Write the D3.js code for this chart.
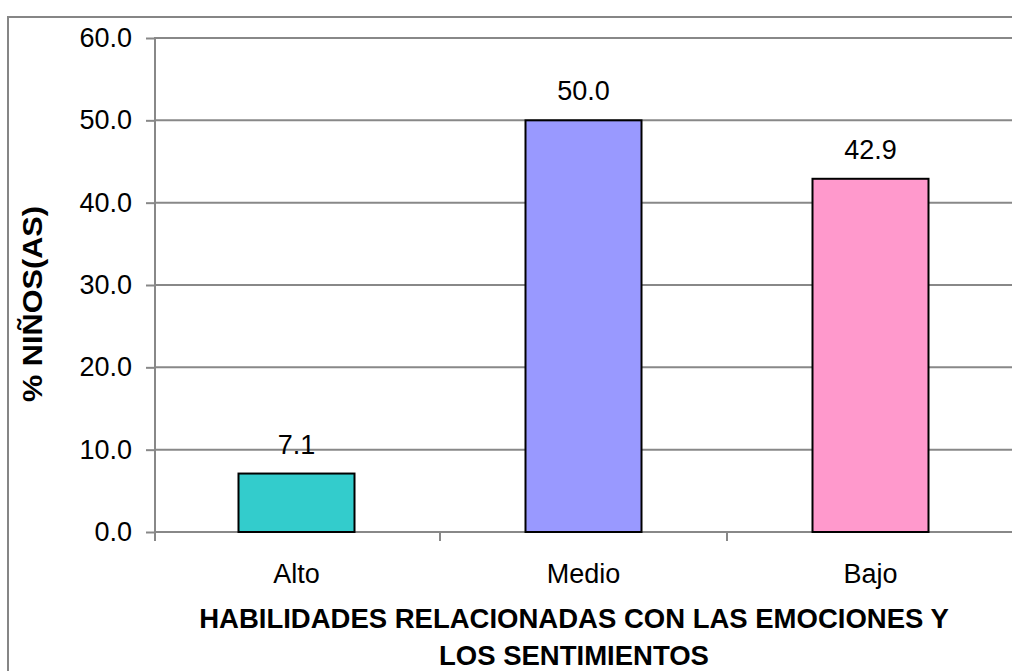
<!DOCTYPE html>
<html>
<head>
<meta charset="utf-8">
<script src="https://cdn.jsdelivr.net/npm/d3@7"></script>
<style>
html,body{margin:0;padding:0;background:#fff;}
svg{display:block;font-family:"Liberation Sans",Arial,sans-serif;}
</style>
</head>
<body>
<svg id="chart" width="1012" height="671"></svg>
<script>
const categories = ["Alto", "Medio", "Bajo"];
const values = [7.1, 50.0, 42.9];
const colors = ["#33CCCC", "#9999FF", "#FF99CC"];
const yTicks = [0, 10, 20, 30, 40, 50, 60];
const yTitle = "% NIÑOS(AS)";
const xTitle = ["HABILIDADES RELACIONADAS CON LAS EMOCIONES Y", "LOS SENTIMIENTOS"];

(function () {
const svg = d3.select("#chart");
const pLeft = 155, pRight = 1014, pTop = 38, pBottom = 532;

// outer chart border
svg.append("rect").attr("x", 8).attr("y", 17).attr("width", 1100).attr("height", 800)
  .attr("fill", "none").attr("stroke", "#868686").attr("stroke-width", 2);

const x = d3.scaleBand().domain(categories).range([153, pRight]).padding(0);
const y = d3.scaleLinear().domain([0, 60]).range([pBottom, pTop]);

// gridlines
svg.append("g").selectAll("line").data(yTicks.filter(d => d > 0)).join("line")
  .attr("x1", pLeft).attr("x2", 1012)
  .attr("y1", d => y(d)).attr("y2", d => y(d))
  .attr("stroke", "#888").attr("stroke-width", 2);

// y axis
const yAxis = svg.append("g").attr("transform", `translate(${pLeft},0)`)
  .call(d3.axisLeft(y).tickValues(yTicks).tickFormat(d3.format(".1f")).tickSize(9).tickPadding(14));
yAxis.select(".domain").attr("stroke", "#888").attr("stroke-width", 2).attr("d", `M0,${pTop - 1}V${pBottom + 1}`);
yAxis.selectAll(".tick line").attr("stroke", "#888").attr("stroke-width", 2);
yAxis.selectAll("text").attr("font-size", 27).attr("fill", "#000").attr("font-family", "Liberation Sans, Arial, sans-serif");

// x axis line
svg.append("line").attr("x1", pLeft).attr("x2", 1012).attr("y1", pBottom).attr("y2", pBottom)
  .attr("stroke", "#888").attr("stroke-width", 2);
// x category boundary ticks
const bounds = [pLeft].concat(categories.slice(1).map(c => x(c)));
svg.append("g").selectAll("line").data(bounds).join("line")
  .attr("x1", d => d).attr("x2", d => d).attr("y1", pBottom).attr("y2", pBottom + 9)
  .attr("stroke", "#888").attr("stroke-width", 2);

// bars
const bw = 116;
svg.append("g").selectAll("rect").data(values).join("rect")
  .attr("x", (d, i) => x(categories[i]) + x.bandwidth() / 2 - bw / 2)
  .attr("y", d => y(d))
  .attr("width", bw)
  .attr("height", d => y(0) - y(d))
  .attr("fill", (d, i) => colors[i])
  .attr("stroke", "#000").attr("stroke-width", 2);

// value labels
svg.append("g").selectAll("text").data(values).join("text")
  .attr("x", (d, i) => x(categories[i]) + x.bandwidth() / 2)
  .attr("y", d => y(d) - 20)
  .attr("text-anchor", "middle").attr("font-size", 27).attr("fill", "#000")
  .text(d => d3.format(".1f")(d));

// category labels
svg.append("g").selectAll("text").data(categories).join("text")
  .attr("x", d => x(d) + x.bandwidth() / 2)
  .attr("y", 583)
  .attr("text-anchor", "middle").attr("font-size", 27).attr("fill", "#000")
  .text(d => d);

// x title
svg.append("g").selectAll("text").data(xTitle).join("text")
  .attr("x", 574).attr("y", (d, i) => 628 + i * 37)
  .attr("text-anchor", "middle").attr("font-size", 27.5).attr("font-weight", "bold").attr("fill", "#000")
  .text(d => d);

// y title
svg.append("text")
  .attr("transform", "translate(42,304) rotate(-90)")
  .attr("text-anchor", "middle").attr("font-size", 28).attr("font-weight", "bold").attr("fill", "#000")
  .attr("textLength", 196).attr("lengthAdjust", "spacingAndGlyphs")
  .text(yTitle);
})();
</script>
</body>
</html>
